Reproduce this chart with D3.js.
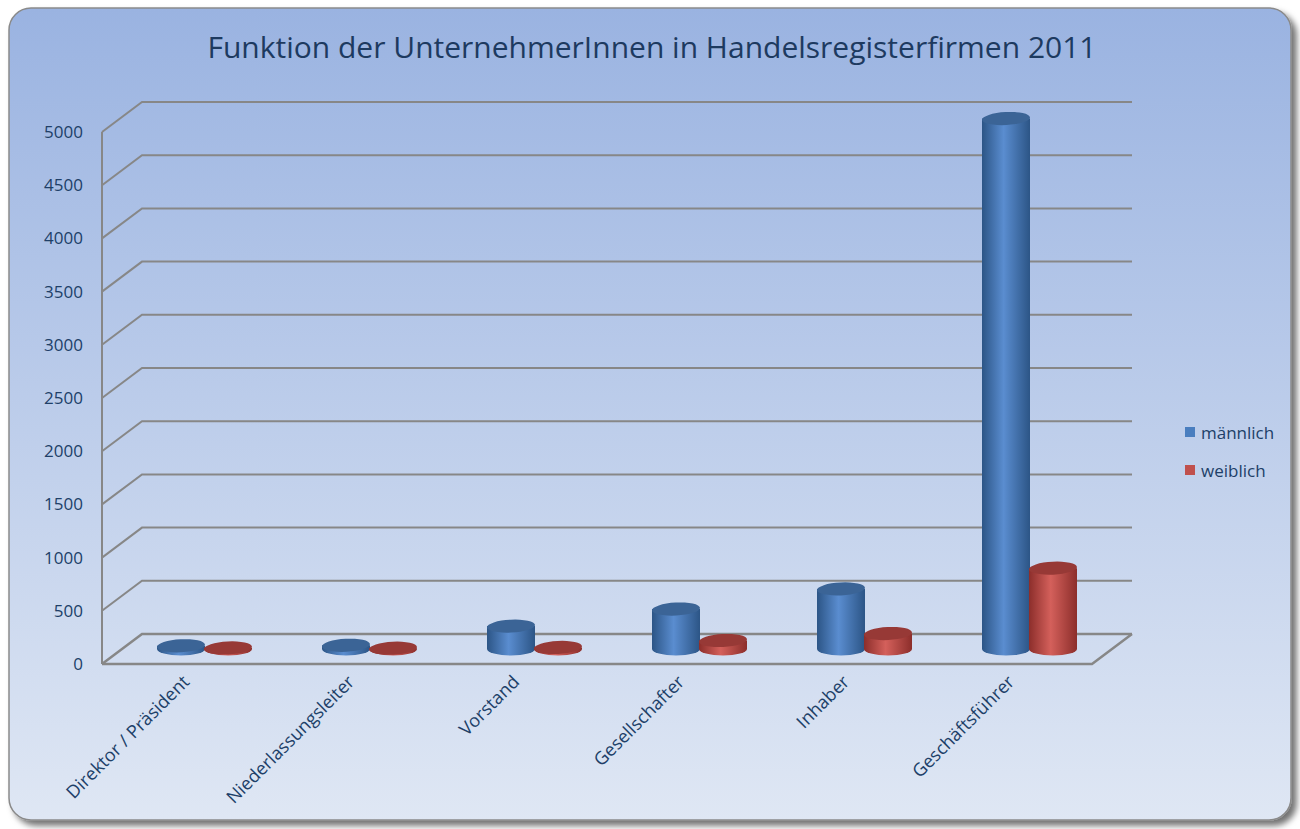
<!DOCTYPE html>
<html>
<head>
<meta charset="utf-8">
<script src="https://cdn.jsdelivr.net/npm/d3@7"></script>
<style>
  body { margin: 0; background: #fff; }
  text { font-family: "Open Sans", "DejaVu Sans", sans-serif; }
</style>
</head>
<body>
<div id="chart"></div>
<script>
// data
var categories = ["Direktor / Präsident", "Niederlassungsleiter", "Vorstand", "Gesellschafter", "Inhaber", "Geschäftsführer"];
var maennlich = [30, 35, 215, 375, 565, 4985];
var weiblich = [10, 8, 15, 80, 145, 760];
var seriesNames = ["männlich", "weiblich"];
var yTicks = [0, 500, 1000, 1500, 2000, 2500, 3000, 3500, 4000, 4500, 5000];

var W = 1300, H = 829;
var depthX = 40, depthY = -30;       // offset from front to back of the floor
var floorLeft = 102, floorRight = 1092, floorFront = 664;

var svg = d3.select("#chart").append("svg")
    .attr("width", W)
    .attr("height", H);

var defs = svg.append("defs");

var bg = defs.append("linearGradient").attr("id", "bg")
    .attr("x1", 0).attr("y1", 0).attr("x2", 0).attr("y2", 1);
bg.append("stop").attr("offset", "0%").attr("stop-color", "#9ab3e1");
bg.append("stop").attr("offset", "100%").attr("stop-color", "#dfe7f4");

var shadow = defs.append("filter").attr("id", "shadow")
    .attr("x", "-5%").attr("y", "-5%").attr("width", "110%").attr("height", "110%");
shadow.append("feDropShadow").attr("dx", 5).attr("dy", 5).attr("stdDeviation", 3)
    .attr("flood-color", "#000").attr("flood-opacity", 0.55);

function cylGrad(id, dark, light) {
    var g = defs.append("linearGradient").attr("id", id)
        .attr("x1", 0).attr("y1", 0).attr("x2", 1).attr("y2", 0);
    g.append("stop").attr("offset", "0%").attr("stop-color", dark);
    g.append("stop").attr("offset", "45%").attr("stop-color", light);
    g.append("stop").attr("offset", "100%").attr("stop-color", dark);
}
cylGrad("gBlue", "#2c5586", "#5a8dd0");
cylGrad("gRed", "#8c2e2b", "#d4605b");
var topColors = ["#3b6496", "#973936"];
var sideFills = ["url(#gBlue)", "url(#gRed)"];
var legendColors = ["#4a7ebf", "#c0504d"];

// frame
svg.append("rect")
    .attr("x", 9).attr("y", 8).attr("width", 1282).attr("height", 812)
    .attr("rx", 22).attr("ry", 22)
    .attr("fill", "url(#bg)")
    .attr("stroke", "#8a8a8a").attr("stroke-width", 1.5)
    .attr("filter", "url(#shadow)");

svg.append("text")
    .attr("x", 652).attr("y", 58)
    .attr("text-anchor", "middle")
    .attr("font-size", 30)
    .attr("fill", "#1d3a60")
    .text("Funktion der UnternehmerInnen in Handelsregisterfirmen 2011");

// scales
var h = d3.scaleLinear().domain([0, 5000]).range([0, 532]);
var x0 = d3.scaleBand().domain(categories)
    .range([floorLeft + depthX / 2, floorRight + depthX / 2])
    .padding(0);
var x1 = d3.scaleBand().domain(seriesNames)
    .range([-47, 47]);

var grid = svg.append("g").attr("stroke", "#878787").attr("fill", "none");

yTicks.forEach(function (t) {
    var yf = floorFront - h(t);
    var w = t === 0 ? 2.5 : 2;
    grid.append("path")
        .attr("stroke-width", w)
        .attr("d", "M" + floorLeft + "," + yf +
            "L" + (floorLeft + depthX) + "," + (yf + depthY) +
            "L" + (floorRight + depthX) + "," + (yf + depthY));
});
// left wall edge and floor
grid.append("line")
    .attr("stroke-width", 2)
    .attr("x1", floorLeft).attr("y1", floorFront - h(5000))
    .attr("x2", floorLeft).attr("y2", floorFront);
grid.append("path")
    .attr("stroke-width", 2.5)
    .attr("d", "M" + floorLeft + "," + floorFront +
        "L" + floorRight + "," + floorFront +
        "L" + (floorRight + depthX) + "," + (floorFront + depthY));

// y axis labels
svg.append("g").selectAll("text")
    .data(yTicks).enter().append("text")
    .attr("x", 83)
    .attr("y", function (d) { return floorFront - h(d) + 6; })
    .attr("text-anchor", "end")
    .attr("font-size", 17)
    .attr("fill", "#203f68")
    .text(function (d) { return d; });

// cylinders
var rx = 24, ry = 6.5;
var baseY = floorFront + depthY / 2;
var rows = categories.map(function (c, i) {
    return { cat: c, values: [maennlich[i], weiblich[i]] };
});

var bars = svg.append("g");
rows.forEach(function (r) {
    r.values.forEach(function (v, s) {
        var cx = x0(r.cat) + x0.bandwidth() / 2 + x1(seriesNames[s]) + x1.bandwidth() / 2;
        var yTop = baseY - h(v);
        var g = bars.append("g");
        g.append("path")
            .attr("fill", sideFills[s])
            .attr("d", "M" + (cx - rx) + "," + yTop +
                "L" + (cx - rx) + "," + baseY +
                "A" + rx + "," + ry + " 0 0 0 " + (cx + rx) + "," + baseY +
                "L" + (cx + rx) + "," + yTop + "Z");
        g.append("ellipse")
            .attr("cx", cx).attr("cy", yTop)
            .attr("rx", rx).attr("ry", ry)
            .attr("transform", "rotate(-3," + cx + "," + yTop + ")")
            .attr("fill", topColors[s]);
    });
});

// category labels
svg.append("g").selectAll("text")
    .data(categories).enter().append("text")
    .attr("transform", function (d) {
        var cx = x0(d) + x0.bandwidth() / 2 - depthX / 2 + 6;
        return "translate(" + cx + ",683) rotate(-45)";
    })
    .attr("text-anchor", "end")
    .attr("font-size", 18)
    .attr("fill", "#203f68")
    .text(function (d) { return d; });

// legend
var legend = svg.append("g");
seriesNames.forEach(function (n, i) {
    legend.append("rect")
        .attr("x", 1185).attr("y", 427 + i * 38)
        .attr("width", 10).attr("height", 10)
        .attr("fill", legendColors[i]);
    legend.append("text")
        .attr("x", 1201).attr("y", 439 + i * 38)
        .attr("font-size", 17)
        .attr("fill", "#203f68")
        .text(n);
});
</script>
</body>
</html>
